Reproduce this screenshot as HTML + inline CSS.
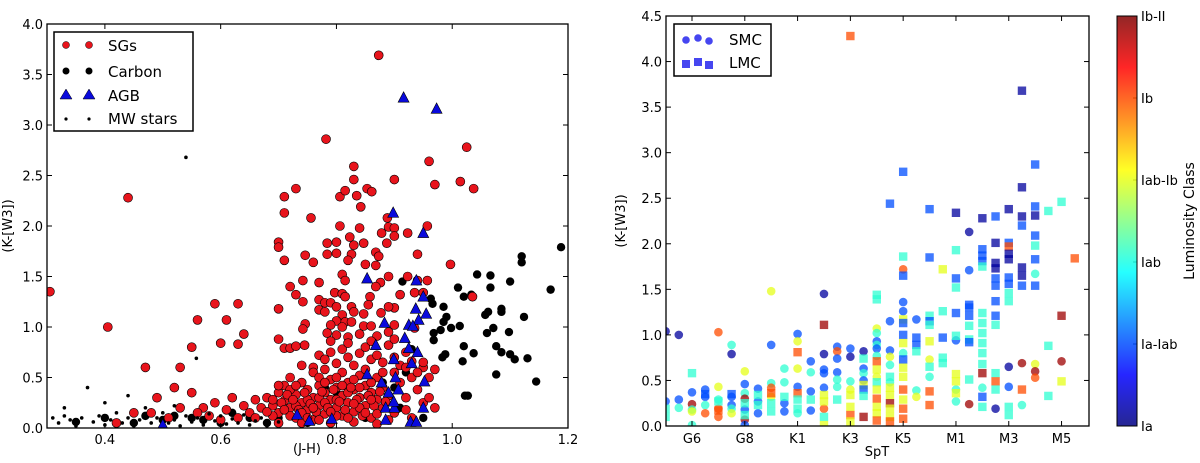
<!DOCTYPE html>
<html><head><meta charset="utf-8">
<style>
html,body{margin:0;padding:0;background:#fff;}
svg{display:block;font-family:"DejaVu Sans","Liberation Sans",sans-serif;}
text{fill:#000;}
</style></head>
<body>
<svg id="fig" width="1200" height="463" viewBox="0 0 1200 463" xmlns="http://www.w3.org/2000/svg">
<defs>
<clipPath id="clipL"><rect x="47" y="24" width="521" height="404"/></clipPath>
<clipPath id="clipR"><rect x="666" y="16" width="423" height="410"/></clipPath>
<linearGradient id="jet" x1="0" y1="1" x2="0" y2="0">
<stop offset="0" stop-color="#000080"/><stop offset="0.125" stop-color="#0000ff"/><stop offset="0.375" stop-color="#00ffff"/><stop offset="0.625" stop-color="#ffff00"/><stop offset="0.875" stop-color="#ff0000"/><stop offset="1" stop-color="#800000"/>
</linearGradient>
</defs>
<g id="left"><g id="leftMarks" clip-path="url(#clipL)"></g></g>
<g id="right"><g id="rightMarks" clip-path="url(#clipR)"></g></g>
</svg>
<script>
// ---- Left chart data ----
const leftXTicks = [0.4, 0.6, 0.8, 1.0, 1.2];
const leftYTicks = [0.0, 0.5, 1.0, 1.5, 2.0, 2.5, 3.0, 3.5, 4.0];
const carbonPts = [[1.188,1.79],[1.12,1.7],[1.12,1.64],[1.043,1.52],[1.066,1.51],[1.10,1.45],[1.01,1.39],[1.066,1.39],[1.02,1.3],[1.033,1.32],[1.17,1.37],[0.985,1.2],[0.99,1.1],[1.085,1.18],[1.085,1.15],[1.057,1.12],[1.062,1.15],[1.124,1.1],[0.985,1.05],[0.98,0.97],[0.968,0.94],[0.998,0.99],[1.013,1.01],[1.071,0.99],[1.06,0.94],[1.098,0.95],[0.968,0.87],[1.02,0.81],[1.037,0.74],[1.076,0.81],[1.085,0.75],[1.1,0.73],[1.108,0.68],[1.13,0.69],[0.988,0.73],[0.983,0.7],[1.018,0.66],[1.076,0.53],[1.145,0.46],[1.022,0.32],[1.027,0.32],[0.914,1.45],[0.963,1.28],[0.966,1.23],[0.93,0.78],[0.92,0.55],[0.9,0.4],[0.88,0.45],[0.8,0.35],[0.78,0.4],[0.72,0.35],[0.7,0.1],[0.75,0.05],[0.65,0.1],[0.6,0.05],[0.55,0.1],[0.5,0.08],[0.47,0.12],[0.45,0.05],[0.4,0.1],[0.35,0.06],[0.62,0.15],[0.57,0.08],[0.52,0.12],[0.68,0.05],[0.85,0.1],[0.91,0.2],[0.95,0.1]];
const sgPts = [[0.305,1.35],[0.405,1.0],[0.44,2.28],[0.47,0.6],[0.53,0.6],[0.55,0.8],[0.56,1.07],[0.59,1.23],[0.61,1.07],[0.63,1.23],[0.6,0.84],[0.63,0.83],[0.64,0.93],[0.873,3.69],[0.782,2.86],[0.83,2.59],[0.83,2.46],[0.73,2.37],[0.71,2.29],[0.71,2.13],[0.756,2.08],[0.806,2.29],[0.815,2.35],[0.835,2.30],[0.853,2.37],[0.861,2.34],[0.842,2.19],[0.90,2.46],[0.96,2.64],[0.97,2.41],[1.014,2.44],[1.037,2.37],[1.025,2.78],[0.70,1.84],[0.70,1.79],[0.71,1.66],[0.746,1.71],[0.76,1.64],[0.806,2.0],[0.784,1.83],[0.80,1.84],[0.784,1.72],[0.80,1.73],[0.823,1.89],[0.84,1.98],[0.83,1.81],[0.826,1.72],[0.82,1.66],[0.847,1.83],[0.85,1.62],[0.868,1.61],[0.868,1.74],[0.873,1.7],[0.878,1.93],[0.887,1.83],[0.89,1.99],[0.888,2.08],[0.9,1.98],[0.9,1.9],[0.923,1.93],[0.957,2.0],[0.94,1.72],[0.997,1.62],[0.923,1.5],[0.94,1.46],[0.957,1.46],[0.89,1.5],[0.876,1.44],[0.868,1.4],[0.935,1.34],[0.95,1.34],[0.91,1.32],[0.81,1.52],[0.815,1.46],[0.77,1.44],[0.742,1.46],[0.72,1.4],[0.73,1.32],[0.742,1.25],[0.77,1.27],[0.78,1.24],[0.79,1.24],[0.80,1.2],[0.77,1.17],[0.78,1.15],[0.797,1.34],[0.81,1.33],[0.815,1.3],[0.826,1.2],[0.83,1.15],[0.847,1.13],[0.858,1.3],[0.855,1.22],[0.877,1.14],[0.90,1.19],[0.89,1.2],[0.7,1.18],[0.746,1.03],[0.742,0.98],[0.7,0.88],[0.71,0.79],[0.72,0.79],[0.73,0.81],[0.745,0.82],[0.81,1.12],[0.815,1.05],[0.8,1.06],[0.79,1.02],[0.81,1.0],[0.826,1.05],[0.847,1.01],[0.86,1.01],[0.784,0.94],[0.8,0.92],[0.82,0.9],[0.84,0.93],[0.87,0.91],[0.89,0.95],[0.9,1.02],[0.935,0.99],[1.035,1.3],[0.77,0.72],[0.78,0.68],[0.79,0.75],[0.80,0.64],[0.81,0.78],[0.82,0.7],[0.83,0.62],[0.84,0.74],[0.85,0.8],[0.86,0.68],[0.87,0.72],[0.88,0.65],[0.89,0.82],[0.90,0.7],[0.91,0.62],[0.92,0.75],[0.93,0.66],[0.95,0.6],[0.76,0.6],[0.79,0.86],[0.82,0.84],[0.86,0.86],[0.9,0.88],[0.95,0.65],[0.97,0.58],[0.96,0.5],[0.68,0.3],[0.69,0.22],[0.70,0.35],[0.70,0.15],[0.71,0.42],[0.71,0.27],[0.72,0.2],[0.72,0.5],[0.73,0.33],[0.73,0.1],[0.74,0.25],[0.74,0.45],[0.75,0.38],[0.75,0.18],[0.76,0.3],[0.76,0.55],[0.76,0.08],[0.77,0.22],[0.77,0.42],[0.78,0.35],[0.78,0.14],[0.78,0.58],[0.79,0.28],[0.79,0.48],[0.80,0.2],[0.80,0.4],[0.81,0.32],[0.81,0.12],[0.81,0.55],[0.82,0.25],[0.82,0.45],[0.83,0.38],[0.83,0.16],[0.84,0.3],[0.84,0.52],[0.85,0.22],[0.85,0.42],[0.86,0.35],[0.86,0.1],[0.87,0.28],[0.87,0.5],[0.88,0.2],[0.88,0.4],[0.89,0.32],[0.9,0.55],[0.9,0.15],[0.91,0.45],[0.92,0.3],[0.93,0.5],[0.94,0.38],[0.95,0.25],[0.74,0.05],[0.79,0.05],[0.83,0.06],[0.87,0.04],[0.7,0.05],[0.72,0.38],[0.75,0.28],[0.77,0.3],[0.8,0.28],[0.82,0.35],[0.84,0.2],[0.86,0.45],[0.78,0.25],[0.73,0.22],[0.69,0.12],[0.67,0.2],[0.66,0.28],[0.65,0.15],[0.64,0.22],[0.63,0.1],[0.62,0.3],[0.61,0.18],[0.6,0.08],[0.59,0.25],[0.58,0.12],[0.57,0.2],[0.56,0.15],[0.55,0.35],[0.53,0.2],[0.52,0.4],[0.51,0.1],[0.49,0.3],[0.48,0.15],[0.45,0.15],[0.42,0.05],[0.74,0.62],[0.77,0.5],[0.8,0.5],[0.83,0.48],[0.85,0.58],[0.88,0.55],[0.92,0.6],[0.94,0.55],[0.92,0.18],[0.93,0.1],[0.89,0.08],[0.96,0.3],[0.97,0.2],[0.705,0.25],[0.715,0.33],[0.725,0.28],[0.735,0.18],[0.745,0.35],[0.755,0.24],[0.765,0.16],[0.775,0.36],[0.785,0.2],[0.795,0.38],[0.805,0.26],[0.815,0.18],[0.825,0.4],[0.835,0.28],[0.845,0.12],[0.855,0.32],[0.865,0.22],[0.875,0.36],[0.885,0.26],[0.72,0.12],[0.74,0.15],[0.76,0.2],[0.78,0.45],[0.8,0.12],[0.82,0.1],[0.84,0.4],[0.86,0.28],[0.71,0.18],[0.73,0.42],[0.75,0.1],[0.77,0.08],[0.79,0.16],[0.81,0.42],[0.83,0.24],[0.85,0.15],[0.87,0.14],[0.69,0.28],[0.7,0.42],[0.66,0.1],[0.68,0.16]];
const agbPts = [[0.916,3.27],[0.973,3.16],[0.898,2.13],[0.95,1.93],[0.853,1.48],[0.938,1.46],[0.95,1.3],[0.937,1.18],[0.955,1.13],[0.942,1.07],[0.883,1.04],[0.925,1.02],[0.932,1.01],[0.918,0.89],[0.925,0.79],[0.94,0.75],[0.868,0.82],[0.899,0.68],[0.93,0.64],[0.952,0.46],[0.902,0.5],[0.853,0.53],[0.878,0.45],[0.89,0.35],[0.907,0.38],[0.885,0.2],[0.9,0.2],[0.899,0.26],[0.95,0.2],[0.885,0.08],[0.928,0.06],[0.938,0.06],[0.792,0.09],[0.753,0.07],[0.732,0.13],[0.5,0.03]];
const mwPts = [[0.54,2.68],[0.558,0.69],[0.31,0.1],[0.32,0.05],[0.33,0.12],[0.34,0.08],[0.35,0.02],[0.36,0.1],[0.37,0.4],[0.38,0.06],[0.39,0.12],[0.4,0.03],[0.41,0.08],[0.42,0.15],[0.43,0.05],[0.44,0.1],[0.45,0.02],[0.46,0.08],[0.47,0.2],[0.48,0.05],[0.49,0.1],[0.5,0.15],[0.51,0.05],[0.52,0.08],[0.53,0.02],[0.54,0.12],[0.55,0.06],[0.56,0.1],[0.57,0.03],[0.58,0.14],[0.59,0.07],[0.6,0.12],[0.61,0.04],[0.62,0.09],[0.63,0.05],[0.64,0.13],[0.65,0.03],[0.66,0.07],[0.67,0.1],[0.68,0.02],[0.7,0.06],[0.33,0.2],[0.4,0.25],[0.44,0.32],[0.52,0.22]];

// ---- Right chart data ----
const spTypes = ["G6","G8","K1","K3","K5","M1","M3","M5"];
const spTickPos = [0, 2, 4, 6, 8, 10, 12, 14];
const rightYTicks = [0.0, 0.5, 1.0, 1.5, 2.0, 2.5, 3.0, 3.5, 4.0, 4.5];
const lumClasses = ["Ia","Ia-Iab","Iab","Iab-Ib","Ib","Ib-II"];
const lumCode = {N:0.03, B:0.2, C:0.42, Y:0.6, O:0.8, R:0.97};
const smcPts = [[-1,1.04,"N"],[-1,0.27,"B"],[-0.5,1.0,"N"],[-0.5,0.29,"B"],[-0.5,0.2,"C"],[0,0.37,"B"],[0,0.24,"R"],[0,0.18,"C"],[0,0.16,"Y"],[0,0.01,"C"],[0.5,0.4,"B"],[0.5,0.32,"B"],[0.5,0.23,"C"],[0.5,0.14,"O"],[1,1.03,"O"],[1,0.43,"Y"],[1,0.29,"C"],[1,0.19,"O"],[1,0.1,"O"],[1.5,0.89,"C"],[1.5,0.79,"N"],[1.5,0.32,"B"],[1.5,0.23,"B"],[1.5,0.19,"C"],[1.5,0.14,"Y"],[2,0.6,"Y"],[2,0.46,"B"],[2,0.36,"C"],[2,0.3,"R"],[2,0.18,"B"],[2,0.07,"R"],[2,0.01,"B"],[2.5,0.41,"B"],[2.5,0.27,"B"],[2.5,0.14,"B"],[3,1.48,"Y"],[3,0.89,"B"],[3,0.47,"C"],[3,0.42,"O"],[3,0.32,"Y"],[3.5,0.63,"C"],[3.5,0.48,"C"],[3.5,0.25,"B"],[3.5,0.16,"B"],[4,1.01,"B"],[4,0.93,"Y"],[4,0.63,"Y"],[4,0.43,"B"],[4,0.14,"C"],[4.5,0.71,"B"],[4.5,0.59,"C"],[4.5,0.38,"B"],[4.5,0.17,"B"],[5,1.45,"N"],[5,0.79,"N"],[5,0.62,"B"],[5,0.58,"B"],[5,0.42,"B"],[5,0.19,"O"],[5.5,0.87,"B"],[5.5,0.82,"O"],[5.5,0.74,"B"],[5.5,0.59,"B"],[5.5,0.51,"C"],[5.5,0.43,"C"],[6,0.85,"B"],[6,0.76,"N"],[6,0.49,"C"],[6,0.4,"Y"],[6.5,0.82,"N"],[6.5,0.63,"B"],[6.5,0.58,"C"],[6.5,0.5,"B"],[7,1.07,"Y"],[7,1.02,"C"],[7,0.93,"B"],[7,0.89,"C"],[7,0.85,"B"],[7,0.77,"C"],[7,0.54,"Y"],[7.5,1.15,"B"],[7.5,0.83,"B"],[7.5,0.76,"Y"],[7.5,0.67,"C"],[7.5,0.48,"C"],[8,1.72,"O"],[8,1.36,"B"],[8,1.26,"B"],[8,0.8,"C"],[8.5,1.17,"B"],[8.5,0.39,"C"],[8.5,0.32,"Y"],[9,0.73,"Y"],[9,0.54,"C"],[10,0.94,"B"],[10,0.4,"C"],[10,0.27,"C"],[10.5,2.13,"N"],[10.5,1.71,"B"],[10.5,0.24,"R"],[11,0.42,"C"],[11.5,0.19,"N"],[12,0.65,"N"],[12,0.43,"B"],[12.5,0.69,"R"],[12.5,0.23,"C"],[13,1.67,"C"],[13,0.68,"Y"],[13,0.6,"R"],[13,0.53,"O"],[14,0.71,"R"]];
const lmcPts = [[-1,0.19,"C"],[-1,0.1,"C"],[0,0.58,"C"],[0.5,0.35,"B"],[1,0.27,"C"],[1,0.17,"O"],[1.5,0.35,"B"],[2,0.25,"C"],[2,0.12,"C"],[2.5,0.34,"C"],[2.5,0.23,"C"],[3,0.36,"O"],[3,0.25,"C"],[3,0.16,"C"],[3.5,0.32,"C"],[4,0.81,"O"],[4,0.36,"O"],[4,0.29,"C"],[4,0.19,"C"],[4.5,0.29,"C"],[5,1.11,"R"],[5,0.34,"Y"],[5,0.27,"Y"],[5,0.1,"C"],[5,0.01,"Y"],[5.5,0.29,"C"],[6,4.28,"O"],[6,0.34,"Y"],[6,0.21,"Y"],[6,0.12,"O"],[6,0.05,"Y"],[6.5,0.74,"C"],[6.5,0.45,"Y"],[6.5,0.4,"B"],[6.5,0.33,"C"],[6.5,0.1,"R"],[7,1.44,"C"],[7,1.39,"C"],[7,0.71,"O"],[7,0.62,"Y"],[7,0.48,"C"],[7,0.4,"Y"],[7,0.3,"O"],[7,0.21,"Y"],[7,0.14,"Y"],[7,0.06,"O"],[7.5,2.44,"B"],[7.5,0.54,"C"],[7.5,0.42,"Y"],[7.5,0.34,"Y"],[7.5,0.25,"R"],[7.5,0.19,"Y"],[7.5,0.1,"Y"],[7.5,0.05,"O"],[8,2.79,"B"],[8,1.86,"C"],[8,1.65,"B"],[8,1.17,"Y"],[8,1.13,"B"],[8,1.0,"B"],[8,0.91,"Y"],[8,0.73,"B"],[8,0.64,"Y"],[8,0.54,"Y"],[8,0.4,"O"],[8,0.29,"Y"],[8,0.19,"O"],[8,0.08,"O"],[8.5,0.97,"B"],[8.5,0.89,"B"],[8.5,0.82,"C"],[9,2.38,"B"],[9,1.85,"B"],[9,1.21,"C"],[9,1.15,"B"],[9,1.11,"C"],[9,0.93,"Y"],[9,0.65,"C"],[9,0.38,"O"],[9,0.23,"O"],[9.5,1.72,"Y"],[9.5,1.26,"C"],[9.5,0.97,"B"],[9.5,0.75,"C"],[9.5,0.69,"C"],[10,2.34,"N"],[10,1.93,"C"],[10,1.62,"B"],[10,1.52,"C"],[10,1.24,"B"],[10,0.99,"C"],[10,0.57,"Y"],[10,0.49,"Y"],[10,0.36,"Y"],[10.5,1.33,"B"],[10.5,1.3,"B"],[10.5,1.21,"B"],[10.5,1.1,"C"],[10.5,0.95,"C"],[10.5,0.92,"B"],[10.5,0.51,"C"],[11,2.28,"N"],[11,1.94,"B"],[11,1.87,"B"],[11,1.81,"B"],[11,1.75,"C"],[11,1.24,"C"],[11,1.13,"C"],[11,1.02,"C"],[11,0.91,"C"],[11,0.8,"C"],[11,0.68,"C"],[11,0.58,"R"],[11,0.32,"B"],[11,0.21,"C"],[11.5,2.3,"B"],[11.5,2.01,"N"],[11.5,1.79,"N"],[11.5,1.73,"N"],[11.5,1.62,"B"],[11.5,1.54,"B"],[11.5,1.37,"B"],[11.5,1.21,"B"],[11.5,1.11,"C"],[11.5,0.58,"C"],[11.5,0.49,"O"],[11.5,0.4,"C"],[12,2.38,"N"],[12,2.01,"B"],[12,1.97,"O"],[12,1.89,"N"],[12,1.83,"N"],[12,1.63,"B"],[12,1.56,"B"],[12,1.46,"C"],[12,1.37,"C"],[12,0.21,"C"],[12,0.12,"C"],[12.5,3.68,"N"],[12.5,2.62,"N"],[12.5,2.3,"N"],[12.5,2.2,"B"],[12.5,1.74,"N"],[12.5,1.65,"N"],[12.5,1.54,"B"],[12.5,0.4,"O"],[13,2.87,"B"],[13,2.41,"B"],[13,2.31,"N"],[13,2.09,"B"],[13,1.98,"C"],[13,1.83,"B"],[13,1.54,"B"],[13.5,2.36,"C"],[13.5,0.88,"C"],[13.5,0.33,"C"],[14,2.46,"C"],[14,1.21,"R"],[14,0.49,"Y"],[14.5,1.84,"O"]];

const NS = "http://www.w3.org/2000/svg";
function el(tag, attrs, parent){ const e=document.createElementNS(NS,tag); for(const k in attrs) e.setAttribute(k,attrs[k]); parent.appendChild(e); return e; }

const L = {x0:47,x1:568,y0:428,y1:24,xmin:0.3,xmax:1.2,ymin:0,ymax:4.0};
const R = {x0:666,x1:1089,y0:426,y1:16,xmin:-0.985,xmax:15.04,ymin:0,ymax:4.5};
const sx = (a,v)=>a.x0+(v-a.xmin)/(a.xmax-a.xmin)*(a.x1-a.x0);
const sy = (a,v)=>a.y0-(v-a.ymin)/(a.ymax-a.ymin)*(a.y0-a.y1);

function jet(t){
  const stops=[[0,[0,0,128]],[0.125,[0,0,255]],[0.375,[0,255,255]],[0.625,[255,255,0]],[0.875,[255,0,0]],[1,[128,0,0]]];
  for(let i=0;i<stops.length-1;i++){const [a,ca]=stops[i],[b,cb]=stops[i+1]; if(t<=b){const f=(t-a)/(b-a); return "rgb("+ca.map((c,j)=>Math.round(c+(cb[j]-c)*f)).join(",")+")";}}
  return "rgb(128,0,0)";
}

function frame(a, g, name){
  const r=el("rect",{x:a.x0,y:a.y1,width:a.x1-a.x0,height:a.y0-a.y1,fill:"none",stroke:"#000","stroke-width":1.3},g);
  
  
}

(function(){
  const g=document.getElementById("left"), m=document.getElementById("leftMarks");
  carbonPts.forEach(p=>{const c=el("circle",{cx:sx(L,p[0]),cy:sy(L,p[1]),r:4.2,fill:"#000"},m);
    
    });
  sgPts.forEach(p=>{const c=el("circle",{cx:sx(L,p[0]),cy:sy(L,p[1]),r:4.5,fill:"#e8141c",stroke:"#000","stroke-width":0.6},m);
    
    });
  agbPts.forEach(p=>{const x=sx(L,p[0]),y=sy(L,p[1]);
    const t=el("polygon",{points:`${x},${y-6} ${x-5.5},${y+4.5} ${x+5.5},${y+4.5}`,fill:"#0a0adc",stroke:"#000","stroke-width":0.6},m);
    
    });
  mwPts.forEach(p=>{const c=el("circle",{cx:sx(L,p[0]),cy:sy(L,p[1]),r:1.8,fill:"#000"},m);
    
    });
  frame(L,g,"left-plot-frame");
  leftXTicks.forEach(v=>{const x=sx(L,v);
    el("line",{x1:x,y1:L.y0,x2:x,y2:L.y0-5,stroke:"#000"},g); el("line",{x1:x,y1:L.y1,x2:x,y2:L.y1+5,stroke:"#000"},g);
    const t=el("text",{x:x,y:L.y0+16,"text-anchor":"middle","font-size":13},g); t.textContent=v.toFixed(1);
    
    });
  leftYTicks.forEach(v=>{const y=sy(L,v);
    el("line",{x1:L.x0,y1:y,x2:L.x0+5,y2:y,stroke:"#000"},g); el("line",{x1:L.x1,y1:y,x2:L.x1-5,y2:y,stroke:"#000"},g);
    const t=el("text",{x:L.x0-4,y:y+5,"text-anchor":"end","font-size":13},g); t.textContent=v.toFixed(1);
    
    });
})();

(function(){
  const g=document.getElementById("right"), m=document.getElementById("rightMarks");
  smcPts.forEach(p=>{const c=el("circle",{cx:sx(R,p[0]),cy:sy(R,p[1]),r:4.3,fill:jet(lumCode[p[2]]),"fill-opacity":0.75},m);
    
    });
  lmcPts.forEach(p=>{const x=sx(R,p[0]),y=sy(R,p[1]);
    const s=el("rect",{x:x-4.2,y:y-4.2,width:8.4,height:8.4,fill:jet(lumCode[p[2]]),"fill-opacity":0.75},m);
    
    });
  frame(R,g,"right-plot-frame");
  spTickPos.forEach((v,i)=>{const x=sx(R,v);
    el("line",{x1:x,y1:R.y0,x2:x,y2:R.y0-5,stroke:"#000"},g); el("line",{x1:x,y1:R.y1,x2:x,y2:R.y1+5,stroke:"#000"},g);
    const t=el("text",{x:x,y:R.y0+17,"text-anchor":"middle","font-size":13},g); t.textContent=spTypes[i];
    
    });
  rightYTicks.forEach(v=>{const y=sy(R,v);
    el("line",{x1:R.x0,y1:y,x2:R.x0+5,y2:y,stroke:"#000"},g); el("line",{x1:R.x1,y1:y,x2:R.x1-5,y2:y,stroke:"#000"},g);
    const t=el("text",{x:R.x0-4,y:y+5,"text-anchor":"end","font-size":13},g); t.textContent=v.toFixed(1);
    
    });
  const cb={y0:426,y1:16};
  lumClasses.forEach((n,i)=>{const y=cb.y0-i/(lumClasses.length-1)*(cb.y0-cb.y1);
    el("line",{x1:1133,y1:y,x2:1137,y2:y,stroke:"#000"},g);
    const t=el("text",{x:1141,y:y+5,"font-size":13},g); t.textContent=n;
    
    });
})();
</script>
<script>
(function(){
  const s=document.getElementById("fig");
  s.insertAdjacentHTML("beforeend",`
  <text x="307" y="453" text-anchor="middle" font-size="13">(J-H)</text>
  <text transform="translate(12,226) rotate(-90)" text-anchor="middle" font-size="13">(K-[W3])</text>
  <text x="877" y="456" text-anchor="middle" font-size="13">SpT</text>
  <text transform="translate(625,221) rotate(-90)" text-anchor="middle" font-size="13">(K-[W3])</text>
  <g>
    <rect x="54" y="32" width="139" height="99" fill="#fff" stroke="#000" stroke-width="1.5"/>
    <g><circle cx="66" cy="45" r="3.5" fill="#e8141c" stroke="#000" stroke-width="0.5"/><circle cx="89" cy="45" r="3.5" fill="#e8141c" stroke="#000" stroke-width="0.5"/><text x="108" y="51" font-size="15">SGs</text></g>
    <g><circle cx="66" cy="71" r="3.5" fill="#000"/><circle cx="89" cy="71" r="3.5" fill="#000"/><text x="108" y="77" font-size="15">Carbon</text></g>
    <g><polygon points="66,89 60,99 72,99" fill="#0a0adc" stroke="#000" stroke-width="0.5"/><polygon points="89,89 83,99 95,99" fill="#0a0adc" stroke="#000" stroke-width="0.5"/><text x="108" y="101" font-size="15">AGB</text></g>
    <g><circle cx="66" cy="119" r="1.6" fill="#000"/><circle cx="89" cy="119" r="1.6" fill="#000"/><text x="108" y="124" font-size="15">MW stars</text></g>
  </g>
  <g>
    <rect x="674" y="24" width="97" height="52" fill="#fff" stroke="#000" stroke-width="1.5"/>
    <g fill="#4646f0"><circle cx="686" cy="40" r="3.8"/><circle cx="698" cy="38" r="3.8"/><circle cx="709" cy="41" r="3.8"/><text x="729" y="45" font-size="15" fill="#000">SMC</text></g>
    <g fill="#4646f0"><rect x="682" y="60" width="8" height="8"/><rect x="694" y="58" width="8" height="8"/><rect x="705" y="61" width="8" height="8"/><text x="729" y="68" font-size="15" fill="#000">LMC</text></g>
  </g>
  <g>
    <rect x="1117" y="16" width="20" height="410" fill="url(#jet)" fill-opacity="0.85"/>
    <rect x="1117" y="16" width="20" height="410" fill="none" stroke="#000" stroke-width="1"/>
  </g>
  <text transform="translate(1194,221) rotate(-90)" text-anchor="middle" font-size="14">Luminosity Class</text>
  `);
})();
</script>
</body></html>
